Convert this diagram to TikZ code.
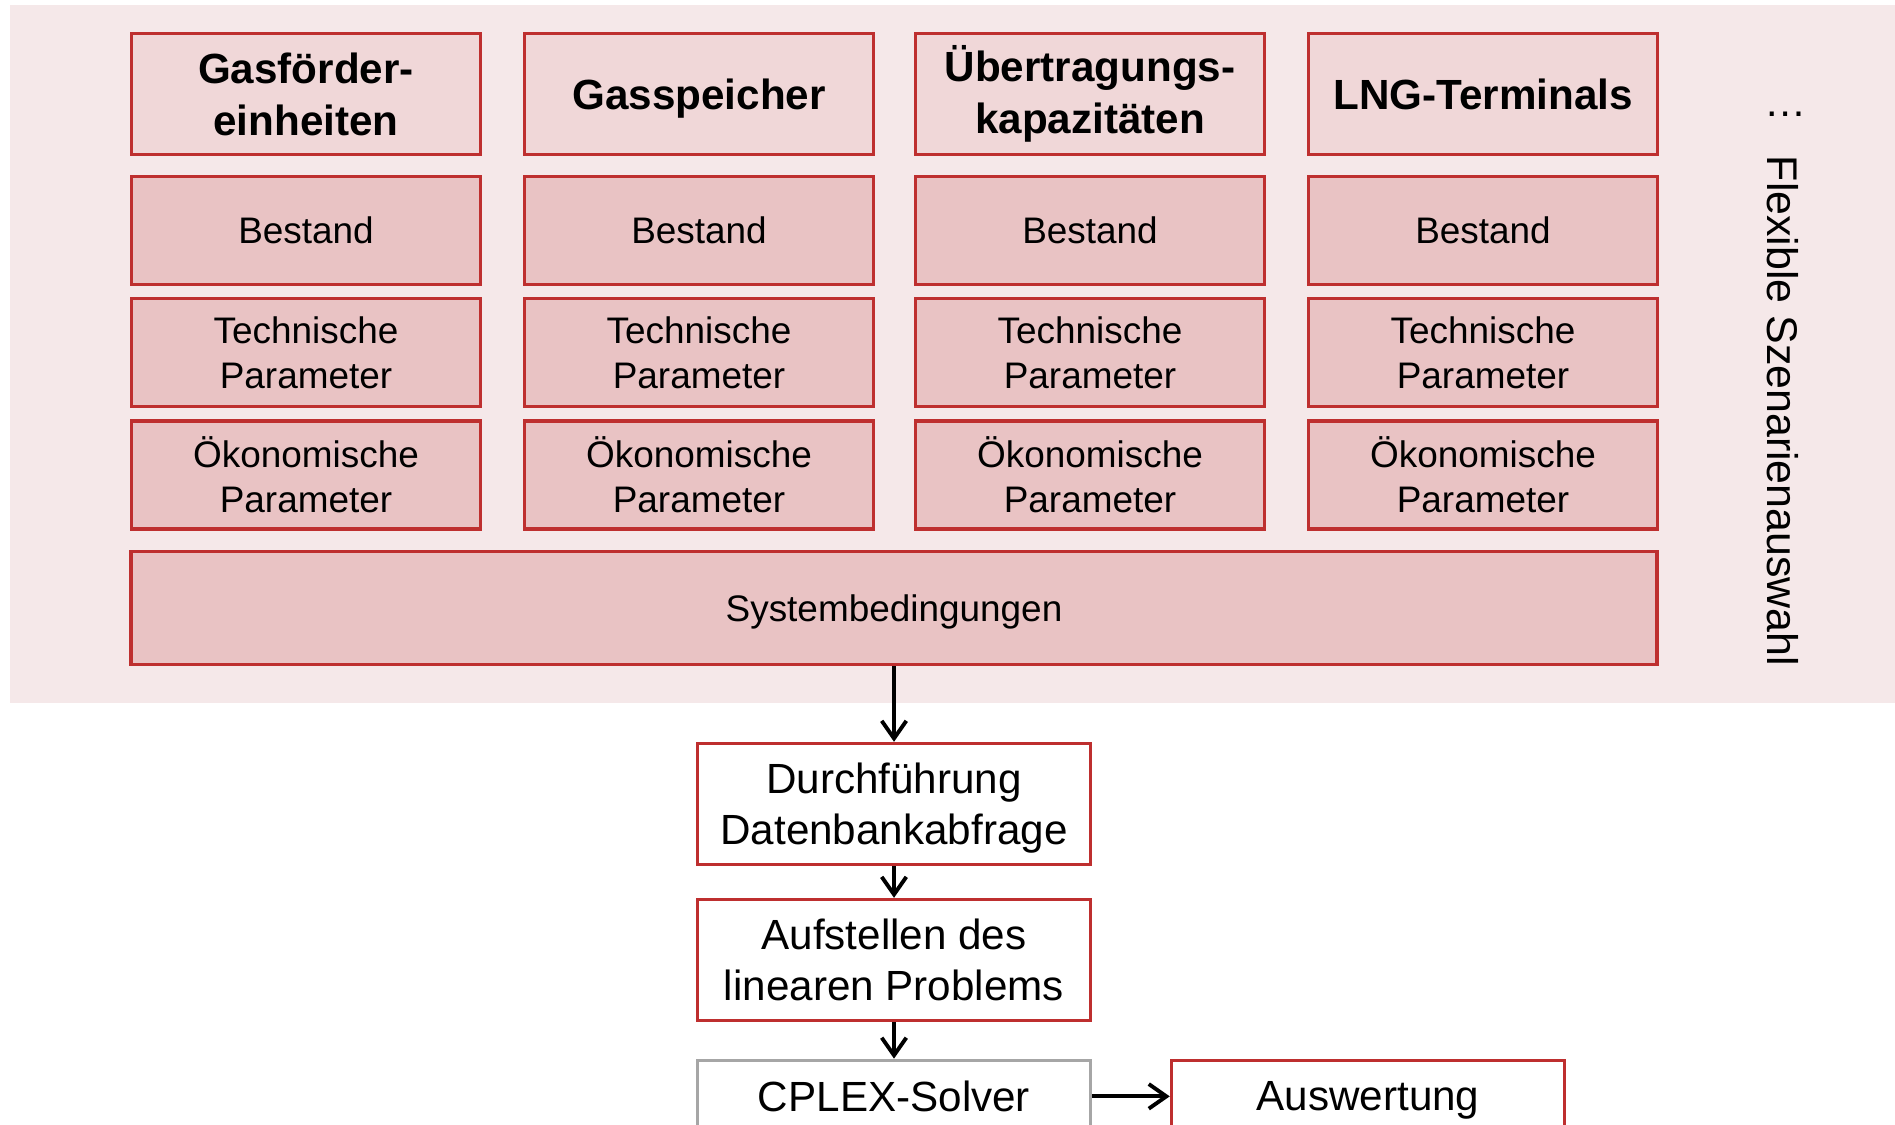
\documentclass[tikz,border=0pt]{standalone}
\usepackage{fontspec}
\setmainfont{Liberation Sans}
\usepackage{tikz}
\newcommand*{\colWidth}{3.49cm}
\newcommand*{\rowHeight}{1.08cm}
\newcommand*{\noDepth}[1]{\raisebox{0pt}[\height][0pt]{#1}}
\usetikzlibrary{positioning}
\usetikzlibrary{arrows.meta}
\definecolor{panelPink}{HTML}{F5E8E9}
\definecolor{headPink}{HTML}{F0D7D8}
\definecolor{rowPink}{HTML}{E9C3C4}
\definecolor{boxRed}{HTML}{BE2F2F}
\definecolor{solverGray}{HTML}{A6A6A6}
\tikzset{
  boxBase/.style={% common frame of all boxes
    draw=boxRed,
    line width=0.95pt,
    inner sep=0pt,
    align=center
  },
  boxHead/.style={boxBase, fill=headPink, minimum width=\colWidth,
    minimum height=1.21cm, font=\fontsize{12}{14.8}\selectfont\bfseries},
  boxRow/.style={boxBase, fill=rowPink, minimum width=\colWidth,
    minimum height=\rowHeight, font=\fontsize{10.5}{12.8}\selectfont},
  boxFlow/.style={boxBase, fill=white, minimum width=3.93cm,
    minimum height=1.21cm, font=\fontsize{12}{14.5}\selectfont},
  boxSolver/.style={boxFlow, draw=solverGray, minimum height=0.72cm},
  flowArrow/.style={line width=1.1pt, -{Straight Barb[length=5pt,width=7pt]}}
}
\begin{document}
\begin{tikzpicture}[x=0.01cm, y=-0.01cm]
    \clip (0,0) rectangle (1895,1125);
    % light panel behind the scenario part
    \fill[panelPink] (10,5) rectangle (1895,703);
    \foreach \i/\x/\title in {1/306/{Gasförder-\\einheiten}, 2/699/{\noDepth{Gasspeicher}},
        3/1090/{Übertragungs-\\kapazitäten}, 4/1483/LNG-Terminals} {
        \node[boxHead] (head\i) at (\x,94) {\title};
        \node[boxRow, below=0.186cm of head\i] (best\i) {Bestand};
        \node[boxRow, below=0.104cm of best\i] (tech\i) {Technische\\Parameter};
        \node[boxRow, below=0.114cm of tech\i] (oeko\i) {Ökonomische\\Parameter};
    }
    \node[boxRow, minimum width=15.25cm, minimum height=1.13cm] (sys) at (894,608) {\noDepth{Systembedingungen}};
    \node[rotate=-90, font=\fontsize{12.2}{14}\selectfont] (szenario) at (1783,411) {Flexible Szenarienauswahl};
    \node[font=\fontsize{12}{14}\selectfont] (weitere) at (1786,114) {…};
    % workflow below the panel
    \node[boxFlow] (abfrage) at (894,804) {Durchführung\\\noDepth{Datenbankabfrage}};
    \node[boxFlow, below=0.316cm of abfrage] (problem) {Aufstellen des\\linearen Problems};
    \node[boxSolver, below=0.364cm of problem] (solver) {CPLEX-Solver};
    \node[boxFlow, minimum height=0.72cm, right=0.774cm of solver] (auswertung) {\noDepth{Auswertung}};
    \draw[flowArrow] (sys) -- (abfrage);
    \draw[flowArrow] (abfrage) -- (problem);
    \draw[flowArrow] (problem) -- (solver);
    \draw[flowArrow] (solver) -- (auswertung);
\end{tikzpicture}
\end{document}
